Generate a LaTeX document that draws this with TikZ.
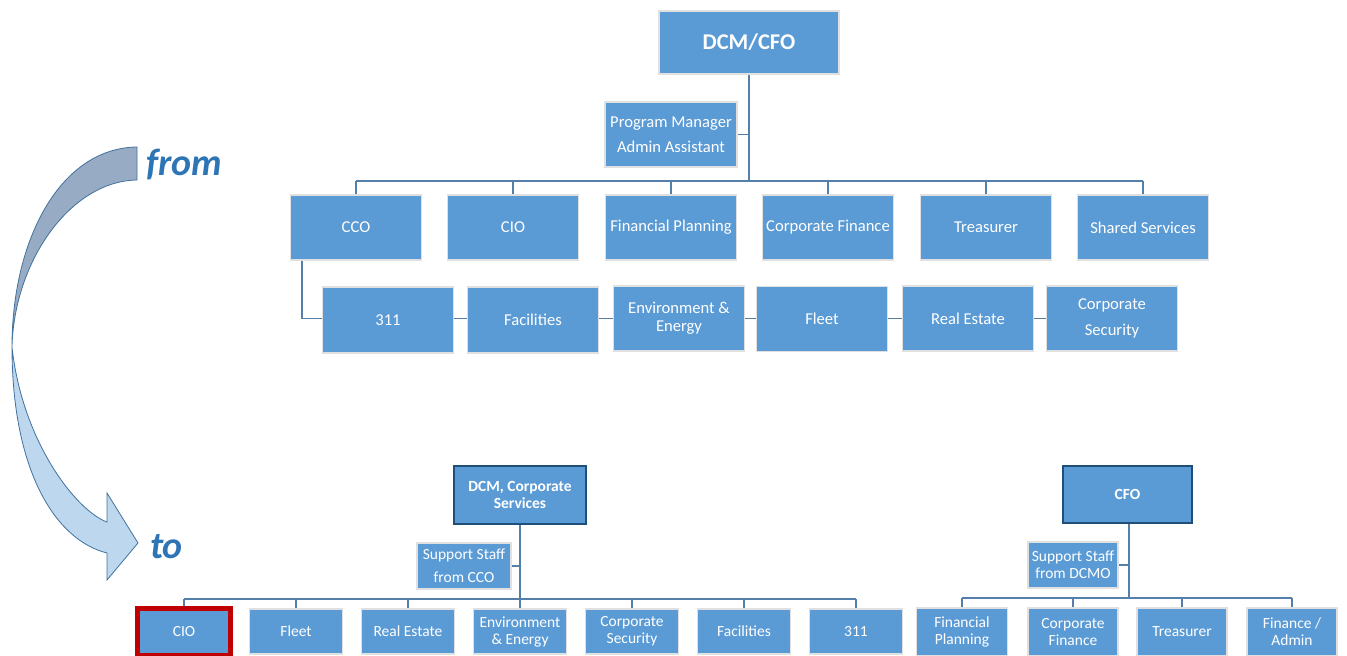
\documentclass[tikz,border=0pt]{standalone}
\usepackage{fontspec}
\setmainfont{Carlito}
\usetikzlibrary{positioning,backgrounds}

\definecolor{boxblue}{RGB}{91,155,213}
\definecolor{linkblue}{RGB}{84,127,168}
\definecolor{navy}{RGB}{31,78,121}
\definecolor{cioRed}{RGB}{192,0,0}
\definecolor{wordblue}{RGB}{46,117,182}
\definecolor{arrowTop}{RGB}{151,172,196}
\definecolor{arrowBot}{RGB}{189,215,238}
\definecolor{arrowEdge}{RGB}{65,113,156}

\tikzset{
  unit/.style={rectangle, draw=black!12, line width=1.2pt, fill=boxblue, text=white, align=center, inner sep=1pt},
  toprow/.style={unit, minimum width=131, minimum height=65, font=\fontsize{16.6}{18}\selectfont},
  lowrow/.style={unit, minimum width=93, minimum height=45, font=\fontsize{15.5}{17}\selectfont},
  head/.style={unit, draw=navy, line width=2.6pt, font=\bfseries\fontsize{15.5}{17}\selectfont},
  link/.style={draw=linkblue, line width=1.6pt},
  word/.style={anchor=base west, inner sep=0pt, text=wordblue, font=\bfseries\itshape\fontsize{38}{40}\selectfont},
}

\begin{document}
\begin{tikzpicture}[x=1pt,y=-1pt]
    \useasboundingbox (0,0) rectangle (1347,656);

    % Curved arrow
    \filldraw[fill=arrowTop, draw=arrowEdge, line width=0.8pt]
        (137,147) .. controls (60,148) and (12,240) .. (12,347)
        .. controls (14,262) and (70,181) .. (137,180) -- cycle;
    \filldraw[fill=arrowBot, draw=arrowEdge, line width=0.8pt]
        (12,347) .. controls (12,470) and (55,540) .. (107,553)
        -- (107,580) -- (138,543) -- (107,493) -- (107,522)
        .. controls (75,510) and (22,440) .. (12,347) -- cycle;
    \node[word] (from) at (146,175) {from};
    \node[word] (to) at (150,558) {to};

    % Current structure
    \node[toprow, minimum width=180, minimum height=63, font=\bfseries\fontsize{22.5}{26}\selectfont] (dcmcfo) at (749,42.5) {DCM/CFO};
    \node[toprow, minimum width=132, font=\fontsize{16.6}{25}\selectfont] (pm) at (671,134.5) {Program Manager\\Admin Assistant};

    \node[toprow] (cco) at (356,227.5) {CCO};
    \node[toprow] (cio) at (513,227.5) {CIO};
    \node[toprow] (fplan) at (671,227.5) {Financial Planning};
    \node[toprow] (cfin) at (828,227.5) {Corporate Finance};
    \node[toprow] (treas) at (986,227.5) {Treasurer};
    \node[toprow] (shared) at (1143,227.5) {Shared Services};

    \node[toprow, minimum height=66] (t311) at (388,320) {311};
    \node[toprow, minimum height=66] (fac) at (533,320) {Facilities};
    \node[toprow] (env) at (679,318.5) {Environment \&\\Energy};
    \node[toprow] (fleet) at (822,319) {Fleet};
    \node[toprow] (reale) at (968,318.5) {Real Estate};
    \node[toprow, font=\fontsize{16.6}{26}\selectfont] (csec) at (1112,318.5) {Corporate\\Security};

    \coordinate (busT) at (749,181);

    % New structure
    \node[head, minimum width=132, minimum height=58] (dcs) at (520,495) {DCM, Corporate\\Services};
    \node[unit, minimum width=94, minimum height=46, font=\fontsize{15.5}{23}\selectfont] (supA) at (464,566) {Support Staff\\from CCO};

    \node[lowrow, draw=cioRed, line width=5pt, minimum height=47] (cio2) at (184,632) {CIO};
    \node[lowrow] (fleet2) at (296,631.5) {Fleet};
    \node[lowrow] (reale2) at (408,631.5) {Real Estate};
    \node[lowrow] (env2) at (520,631.5) {Environment\\\& Energy};
    \node[lowrow] (csec2) at (632,631.5) {Corporate\\Security};
    \node[lowrow] (fac2) at (744,631.5) {Facilities};
    \node[lowrow] (s311) at (856,631.5) {311};

    \node[head, minimum width=129, minimum height=57] (cfo) at (1127.5,494.5) {CFO};
    \node[unit, minimum width=90, minimum height=46, font=\fontsize{15.5}{17}\selectfont] (supB) at (1073,565) {Support Staff\\from DCMO};

    \node[lowrow, minimum width=91, minimum height=48] (fplan2) at (962,632) {Financial\\Planning};
    \node[lowrow, minimum width=90, minimum height=48] (cfin2) at (1073,632) {Corporate\\Finance};
    \node[lowrow, minimum width=90, minimum height=48] (treas2) at (1182,632) {Treasurer};
    \node[lowrow, minimum width=90, minimum height=48] (fadm) at (1292,632) {Finance /\\Admin};

    \coordinate (busL) at (520,599);
    \coordinate (busR) at (1129,598);

    % Connectors
    \begin{scope}[on background layer]
        \draw[link] (dcmcfo.south) -- (busT);
        \draw[link] (pm.east) -- (pm.east -| busT);
        \draw[link] (busT -| cco) -- (busT -| shared);
        \foreach \n in {cco,cio,fplan,cfin,treas,shared}
            \draw[link] (busT -| \n) -- (\n.north);
        \draw[link] ([xshift=12]cco.south west) |- (csec.west);

        \draw[link] (dcs.south) -- (busL);
        \draw[link] (supA.east) -- (supA.east -| busL);
        \draw[link] (busL -| cio2) -- (busL -| s311);
        \foreach \n in {cio2,fleet2,reale2,env2,csec2,fac2,s311}
            \draw[link] (busL -| \n) -- (\n.north);

        \draw[link, line width=2.4pt] (cfo.south -| busR) -- (busR);
        \draw[link] (supB.east) -- (supB.east -| busR);
        \draw[link] (busR -| fplan2) -- (busR -| fadm);
        \foreach \n in {fplan2,cfin2,treas2,fadm}
            \draw[link] (busR -| \n) -- (\n.north);
    \end{scope}
\end{tikzpicture}
\end{document}
